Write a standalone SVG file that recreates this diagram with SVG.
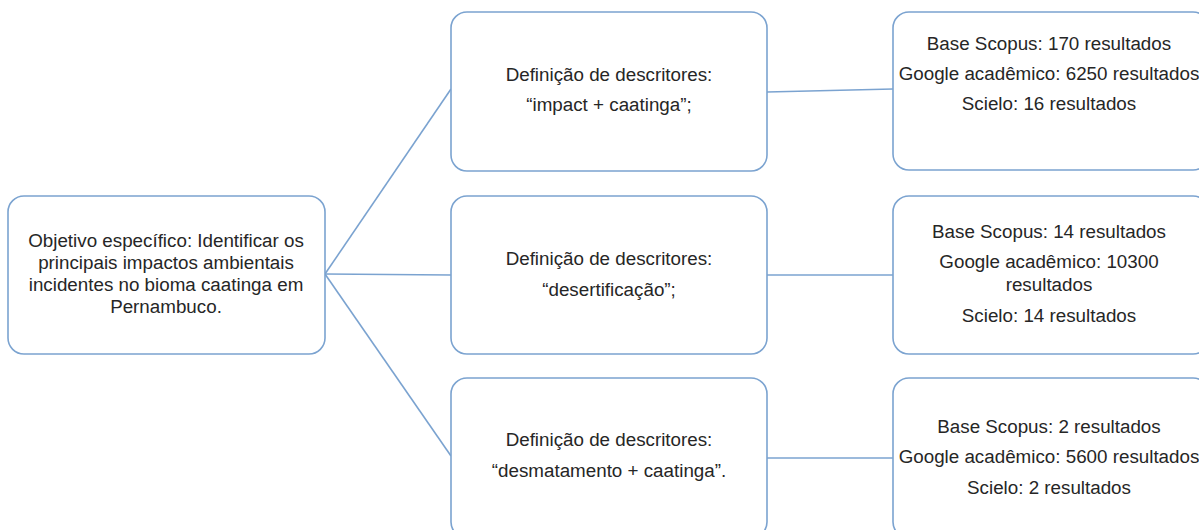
<svg xmlns="http://www.w3.org/2000/svg" width="1199" height="530" viewBox="0 0 1199 530">
<style>
.box{fill:#fff;stroke:#7ba3d0;stroke-width:1.6}
.ln{stroke:#7ba3d0;stroke-width:1.6;fill:none}
text{font-family:"Liberation Sans",Arial,sans-serif;font-size:18.8px;fill:#262626;text-anchor:middle}
</style>
<rect width="1199" height="530" fill="#fff"/>
<g id="connectors">
<line class="ln" x1="325" y1="274" x2="451" y2="89"/>
<line class="ln" x1="325" y1="274" x2="451" y2="275"/>
<line class="ln" x1="325" y1="274" x2="451" y2="456"/>
<line class="ln" x1="767" y1="92" x2="893" y2="89"/>
<line class="ln" x1="767" y1="275" x2="893" y2="275"/>
<line class="ln" x1="767" y1="458" x2="893" y2="458"/>
</g>
<g id="objetivo">
<rect class="box" x="8" y="196" width="317" height="158" rx="16"/>
<text x="166" y="247">Objetivo específico: Identificar os</text>
<text x="166" y="269">principais impactos ambientais</text>
<text x="166" y="291">incidentes no bioma caatinga em</text>
<text x="166" y="313">Pernambuco.</text>
</g>
<g id="desc1">
<rect class="box" x="451" y="12" width="316" height="159" rx="16"/>
<text x="609" y="81">Definição de descritores:</text>
<text x="609" y="111">“impact + caatinga”;</text>
</g>
<g id="desc2">
<rect class="box" x="451" y="196" width="316" height="158" rx="16"/>
<text x="609" y="265">Definição de descritores:</text>
<text x="609" y="296">“desertificação”;</text>
</g>
<g id="desc3">
<rect class="box" x="451" y="378" width="316" height="160" rx="16"/>
<text x="609" y="446">Definição de descritores:</text>
<text x="609" y="477">“desmatamento + caatinga”.</text>
</g>
<g id="res1">
<rect class="box" x="893" y="12" width="316" height="158" rx="16"/>
<text x="1049" y="50">Base Scopus: 170 resultados</text>
<text x="1049" y="80">Google acadêmico: 6250 resultados</text>
<text x="1049" y="110">Scielo: 16 resultados</text>
</g>
<g id="res2">
<rect class="box" x="893" y="196" width="316" height="158" rx="16"/>
<text x="1049" y="238">Base Scopus: 14 resultados</text>
<text x="1049" y="268">Google acadêmico: 10300</text>
<text x="1049" y="291">resultados</text>
<text x="1049" y="322">Scielo: 14 resultados</text>
</g>
<g id="res3">
<rect class="box" x="893" y="378" width="316" height="160" rx="16"/>
<text x="1049" y="433">Base Scopus: 2 resultados</text>
<text x="1049" y="463">Google acadêmico: 5600 resultados</text>
<text x="1049" y="494">Scielo: 2 resultados</text>
</g>
</svg>
